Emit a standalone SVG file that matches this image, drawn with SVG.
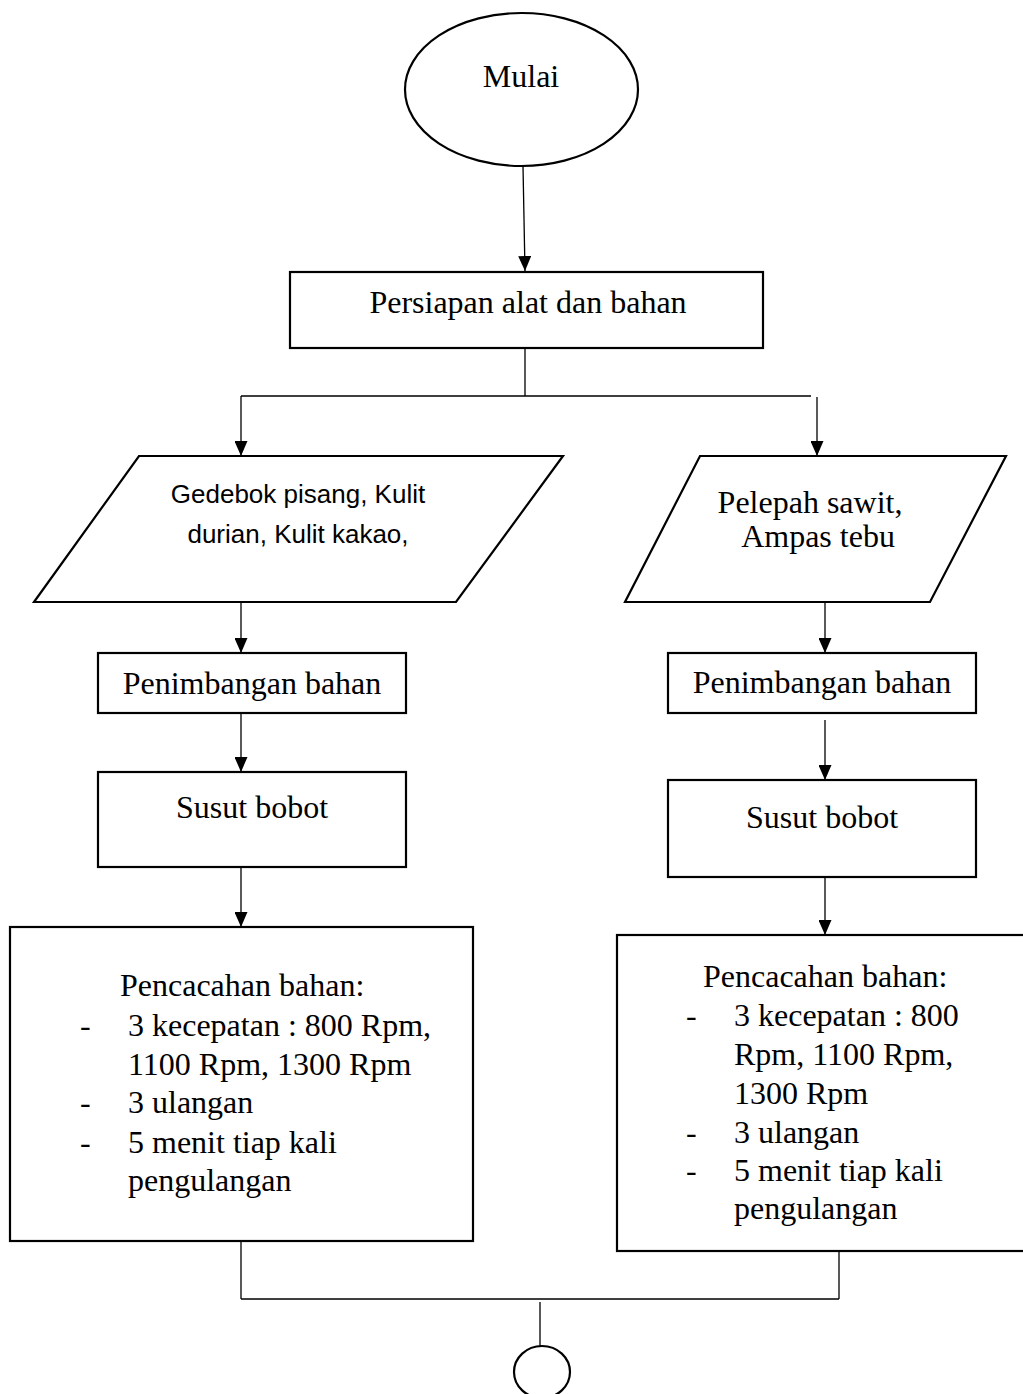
<svg xmlns="http://www.w3.org/2000/svg" width="1023" height="1394" viewBox="0 0 1023 1394">
<defs>
<marker id="ah" markerUnits="userSpaceOnUse" markerWidth="15" markerHeight="13" refX="15" refY="6.5" orient="auto">
<path d="M0,0 L15,6.5 L0,13 z" fill="#000"/>
</marker>
<style>
.shape{fill:#fff;stroke:#000;stroke-width:2.2}
.ln{fill:none;stroke:#000;stroke-width:1.3}
.arr{fill:none;stroke:#000;stroke-width:1.3;marker-end:url(#ah)}
.t{font-family:"Liberation Serif","Times New Roman",serif;font-size:32px;fill:#000}
.c{text-anchor:middle}
.s{font-family:"Liberation Sans",Arial,sans-serif;font-size:26px;fill:#000;text-anchor:middle}
</style>
</defs>
<rect width="1023" height="1394" fill="#fff"/>
<g id="connectors">
<path class="arr" d="M523,166 L525,271"/>
<path class="ln" d="M525,348 L525,396 M241,396 L811,396"/>
<path class="arr" d="M241,396 L241,456"/>
<path class="arr" d="M817,397 L817,456"/>
<path class="arr" d="M241,603 L241,653"/>
<path class="arr" d="M241,714 L241,772"/>
<path class="arr" d="M241,868 L241,927"/>
<path class="arr" d="M825,603 L825,653"/>
<path class="arr" d="M825,720 L825,780"/>
<path class="arr" d="M825,878 L825,935"/>
<path class="ln" d="M241,1242 L241,1299 M839,1252 L839,1299 M241,1299 L839,1299 M540,1302 L540,1346"/>
</g>
<g id="start">
<ellipse class="shape" cx="521.5" cy="89.5" rx="116.5" ry="76.5"/>
<text class="t c" x="521" y="87">Mulai</text>
</g>
<g id="persiapan">
<rect class="shape" x="290" y="272" width="473" height="76"/>
<text class="t c" x="528" y="313">Persiapan alat dan bahan</text>
</g>
<g id="input-left">
<polygon class="shape" points="139,456 563,456 456,602 34,602"/>
<text class="s" x="298" y="503">Gedebok pisang, Kulit</text>
<text class="s" x="298" y="543">durian, Kulit kakao,</text>
</g>
<g id="input-right">
<polygon class="shape" points="700,456 1006,456 930,602 625,602"/>
<text class="t c" x="810" y="513">Pelepah sawit,</text>
<text class="t c" x="818" y="547">Ampas tebu</text>
</g>
<g id="timbang-left">
<rect class="shape" x="98" y="653" width="308" height="60"/>
<text class="t c" x="252" y="694">Penimbangan bahan</text>
</g>
<g id="susut-left">
<rect class="shape" x="98" y="772" width="308" height="95"/>
<text class="t c" x="252" y="818">Susut bobot</text>
</g>
<g id="timbang-right">
<rect class="shape" x="668" y="653" width="308" height="60"/>
<text class="t c" x="822" y="693">Penimbangan bahan</text>
</g>
<g id="susut-right">
<rect class="shape" x="668" y="780" width="308" height="97"/>
<text class="t c" x="822" y="828">Susut bobot</text>
</g>
<g id="cacah-left">
<rect class="shape" x="10" y="927" width="463" height="314"/>
<text class="t" x="120" y="996">Pencacahan bahan:</text>
<text class="t" x="80" y="1036">-</text>
<text class="t" x="128" y="1036">3 kecepatan : 800 Rpm,</text>
<text class="t" x="128" y="1075">1100 Rpm, 1300 Rpm</text>
<text class="t" x="80" y="1113">-</text>
<text class="t" x="128" y="1113">3 ulangan</text>
<text class="t" x="80" y="1153">-</text>
<text class="t" x="128" y="1153">5 menit tiap kali</text>
<text class="t" x="128" y="1191">pengulangan</text>
</g>
<g id="cacah-right">
<rect class="shape" x="617" y="935" width="420" height="316"/>
<text class="t" x="703" y="987">Pencacahan bahan:</text>
<text class="t" x="686" y="1026">-</text>
<text class="t" x="734" y="1026">3 kecepatan : 800</text>
<text class="t" x="734" y="1065">Rpm, 1100 Rpm,</text>
<text class="t" x="734" y="1104">1300 Rpm</text>
<text class="t" x="686" y="1143">-</text>
<text class="t" x="734" y="1143">3 ulangan</text>
<text class="t" x="686" y="1181">-</text>
<text class="t" x="734" y="1181">5 menit tiap kali</text>
<text class="t" x="734" y="1219">pengulangan</text>
</g>
<g id="connector-end">
<ellipse class="shape" cx="542" cy="1372" rx="28" ry="26"/>
</g>
</svg>
